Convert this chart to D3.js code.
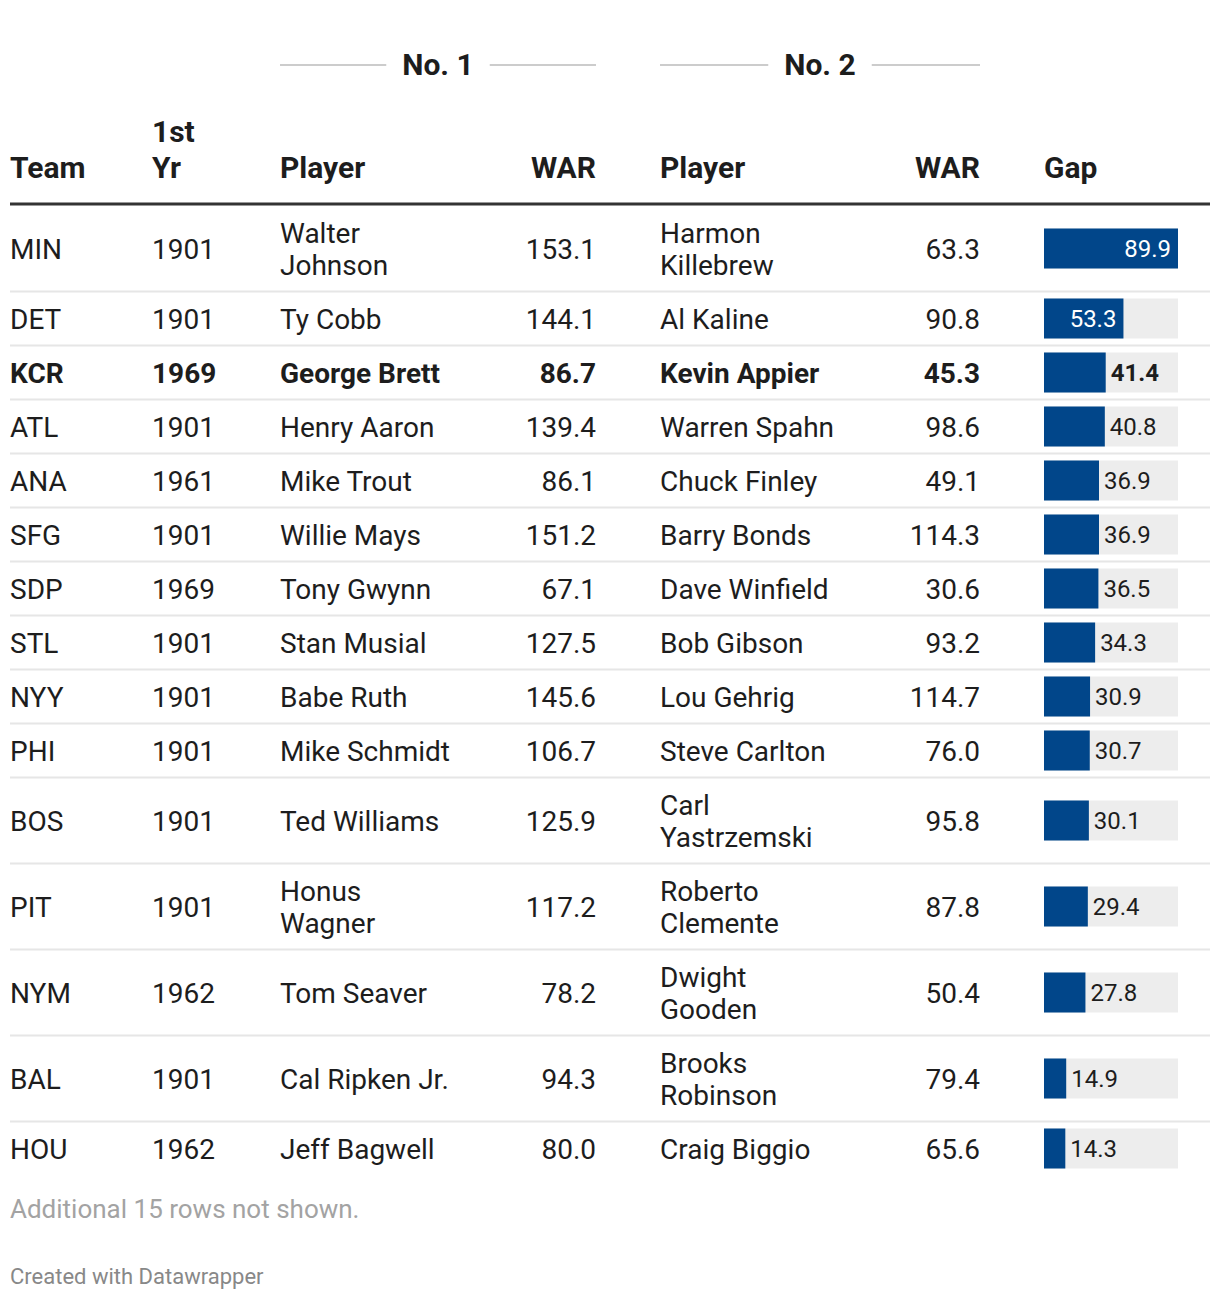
<!DOCTYPE html>
<html>
<head>
<meta charset="utf-8">
<script src="https://cdn.jsdelivr.net/npm/d3@7"></script>
<style>
  body { margin: 0; background: #fff; }
  svg { font-family: Roboto, "Noto Sans", sans-serif; display: block; }
</style>
</head>
<body>
<svg id="chart"></svg>
<script>
// table data
const teams = ["MIN","DET","KCR","ATL","ANA","SFG","SDP","STL","NYY","PHI","BOS","PIT","NYM","BAL","HOU"];
const firstYr = [1901,1901,1969,1901,1961,1901,1969,1901,1901,1901,1901,1901,1962,1901,1962];
const player1 = ["Walter Johnson","Ty Cobb","George Brett","Henry Aaron","Mike Trout","Willie Mays","Tony Gwynn","Stan Musial","Babe Ruth","Mike Schmidt","Ted Williams","Honus Wagner","Tom Seaver","Cal Ripken Jr.","Jeff Bagwell"];
const war1 = [153.1,144.1,86.7,139.4,86.1,151.2,67.1,127.5,145.6,106.7,125.9,117.2,78.2,94.3,80.0];
const player2 = ["Harmon Killebrew","Al Kaline","Kevin Appier","Warren Spahn","Chuck Finley","Barry Bonds","Dave Winfield","Bob Gibson","Lou Gehrig","Steve Carlton","Carl Yastrzemski","Roberto Clemente","Dwight Gooden","Brooks Robinson","Craig Biggio"];
const war2 = [63.3,90.8,45.3,98.6,49.1,114.3,30.6,93.2,114.7,76.0,95.8,87.8,50.4,79.4,65.6];
const gap = [89.9,53.3,41.4,40.8,36.9,36.9,36.5,34.3,30.9,30.7,30.1,29.4,27.8,14.9,14.3];
const highlighted = ["KCR"];
const groupHeaders = [{label: "No. 1", from: 280, to: 596}, {label: "No. 2", from: 660, to: 980}];
const notes = ["Additional 15 rows not shown.", "Created with Datawrapper"];

const width = 1220, height = 1300;
const textColor = "#1d1d1d", barColor = "#01468a", bgColor = "#ededed";
const fontSize = 28, headSize = 30, lineH = 32, rowPad = 11;
const tableTop = 205.5;

const svg = d3.select("#chart").attr("width", width).attr("height", height);

//column setup
const columns = [
  { title: ["Team"], x: 10, anchor: "start", value: i => teams[i] },
  { title: ["1st", "Yr"], x: 152, anchor: "start", value: i => String(firstYr[i]) },
  { title: ["Player"], x: 280, anchor: "start", value: i => player1[i], wrap: 177 },
  { title: ["WAR"], x: 596, anchor: "end", value: i => war1[i].toFixed(1) },
  { title: ["Player"], x: 660, anchor: "start", value: i => player2[i], wrap: 177 },
  { title: ["WAR"], x: 980, anchor: "end", value: i => war2[i].toFixed(1) },
  { title: ["Gap"], x: 1044, anchor: "start" }
];

// measure text for wrapping
const measurer = svg.append("text").attr("font-size", fontSize).attr("visibility", "hidden");
function textWidth(str, bold) {
  measurer.attr("font-weight", bold ? 700 : 400).text(str);
  return measurer.node().getComputedTextLength();
}
function wrapText(str, maxW, bold) {
  const words = str.split(" ");
  const lines = [];
  let cur = "";
  words.forEach(w => {
    const test = cur ? cur + " " + w : w;
    if (cur && textWidth(test, bold) > maxW) { lines.push(cur); cur = w; }
    else cur = test;
  });
  lines.push(cur);
  return lines;
}

// build rows
let y = tableTop;
const rows = teams.map((t, i) => {
  const bold = highlighted.includes(t);
  const cells = columns.filter(c => c.value).map(c => {
    const v = c.value(i);
    return { col: c, lines: c.wrap ? wrapText(v, c.wrap, bold) : [v] };
  });
  const nLines = d3.max(cells, c => c.lines.length);
  const h = nLines * lineH + rowPad * 2;
  const row = { i, bold, cells, top: y, h, mid: y + h / 2 };
  y += h;
  return row;
});
measurer.remove();

// group headers
groupHeaders.forEach(g => {
  const cx = (g.from + g.to) / 2;
  const gTxt = svg.append("text").attr("x", cx).attr("y", 64).attr("dy", "0.36em")
    .attr("text-anchor", "middle").attr("font-size", headSize).attr("font-weight", 700)
    .attr("fill", textColor).text(g.label);
  const w = gTxt.node().getComputedTextLength();
  svg.append("line").attr("x1", g.from).attr("x2", cx - w / 2 - 16).attr("y1", 65).attr("y2", 65)
    .attr("stroke", "#cccccc").attr("stroke-width", 2);
  svg.append("line").attr("x1", cx + w / 2 + 16).attr("x2", g.to).attr("y1", 65).attr("y2", 65)
    .attr("stroke", "#cccccc").attr("stroke-width", 2);
});

// column headers (bottom aligned)
columns.forEach(c => {
  const t = svg.append("text").attr("text-anchor", c.anchor).attr("font-size", headSize)
    .attr("font-weight", 700).attr("fill", textColor);
  const n = c.title.length;
  c.title.forEach((line, k) => {
    t.append("tspan").attr("x", c.x).attr("y", 167 - (n - 1 - k) * 36).attr("dy", "0.36em").text(line);
  });
});

svg.append("line").attr("x1", 10).attr("x2", 1210).attr("y1", 204).attr("y2", 204)
  .attr("stroke", "#333333").attr("stroke-width", 3);

// row separators
svg.selectAll(".sep").data(rows.slice(0, -1)).join("line").attr("class", "sep")
  .attr("x1", 10).attr("x2", 1210)
  .attr("y1", d => d.top + d.h).attr("y2", d => d.top + d.h)
  .attr("stroke", "#e6e6e6").attr("stroke-width", 2);

// cell text
const rowG = svg.selectAll(".row").data(rows).join("g").attr("class", "row");
rowG.each(function(r) {
  const g = d3.select(this);
  r.cells.forEach(c => {
    const t = g.append("text").attr("text-anchor", c.col.anchor).attr("font-size", fontSize)
      .attr("font-weight", r.bold ? 700 : 400).attr("fill", textColor);
    const n = c.lines.length;
    c.lines.forEach((line, k) => {
      t.append("tspan").attr("x", c.col.x).attr("y", r.mid + (k - (n - 1) / 2) * lineH)
        .attr("dy", "0.36em").text(line);
    });
  });
});

// gap bars
const x = d3.scaleLinear().domain([0, d3.max(gap)]).range([1044, 1178]);
const barH = 40;
rowG.append("rect").attr("x", x(0)).attr("y", d => d.mid - barH / 2)
  .attr("width", x.range()[1] - x(0)).attr("height", barH).attr("fill", bgColor);
rowG.append("rect").attr("x", x(0)).attr("y", d => d.mid - barH / 2)
  .attr("width", d => x(gap[d.i]) - x(0)).attr("height", barH).attr("fill", barColor);

rowG.each(function(r) {
  const g = d3.select(this);
  const v = gap[r.i];
  const label = g.append("text").attr("font-size", 24).attr("font-weight", r.bold ? 700 : 400)
    .attr("y", r.mid).attr("dy", "0.36em").text(v.toFixed(1));
  const lw = label.node().getComputedTextLength();
  const bw = x(v) - x(0);
  if (bw > lw + 16) {
    label.attr("x", x(v) - 7).attr("text-anchor", "end").attr("fill", "#ffffff");
  } else {
    label.attr("x", x(v) + 5).attr("text-anchor", "start").attr("fill", textColor);
  }
});

// notes
svg.append("text").attr("x", 10).attr("y", 1209).attr("dy", "0.36em").attr("font-size", 26)
  .attr("fill", "#a3a3a3").text(notes[0]);
svg.append("text").attr("x", 10).attr("y", 1276).attr("dy", "0.36em").attr("font-size", 22)
  .attr("fill", "#888888").text(notes[1]);
</script>
</body>
</html>
